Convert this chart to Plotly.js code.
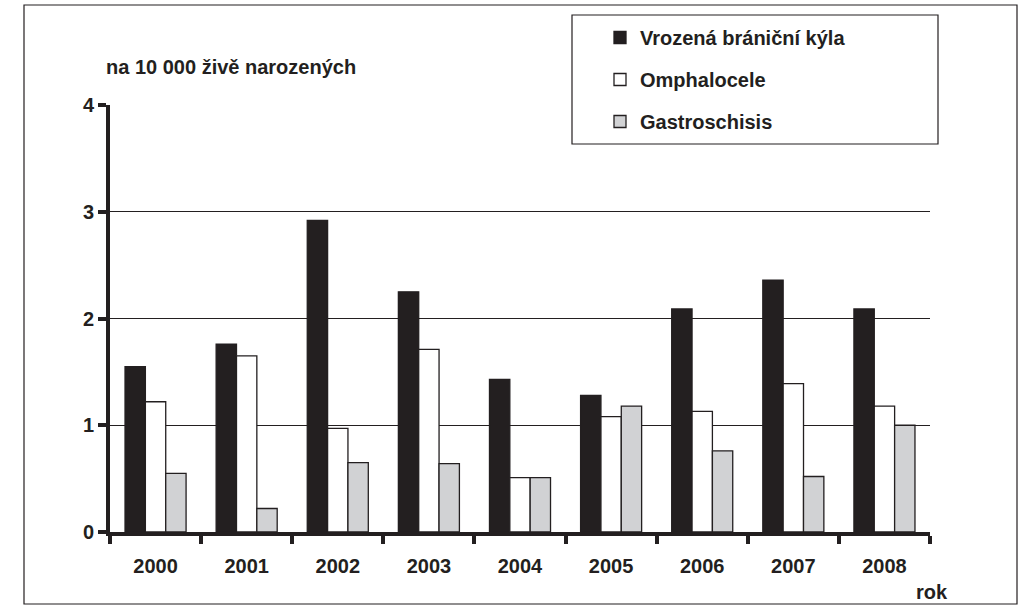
<!DOCTYPE html>
<html>
<head>
<meta charset="utf-8">
<script src="https://cdn.plot.ly/plotly-3.0.1.min.js"></script>
<style>html,body{margin:0;padding:0;background:#fff;}#chart{width:1036px;height:609px;}</style>
</head>
<body>
<div id="chart"></div>
<script>
// ---- data ----
const years = ["2000","2001","2002","2003","2004","2005","2006","2007","2008"];
const vrozenaBranicniKyla = [1.55, 1.76, 2.92, 2.25, 1.43, 1.28, 2.09, 2.36, 2.09];
const omphalocele        = [1.22, 1.65, 0.97, 1.71, 0.51, 1.08, 1.13, 1.39, 1.18];
const gastroschisis      = [0.55, 0.22, 0.65, 0.64, 0.51, 1.18, 0.76, 0.52, 1.00];
const seriesNames = ["Vrozená brániční kýla", "Omphalocele", "Gastroschisis"];
const yTicks = [0, 1, 2, 3, 4];
const yTitle = "na 10 000 živě narozených";
const xTitle = "rok";

// ---- layout helpers ----
const W = 1036, H = 609;
const M = {l: 110, r: 106, t: 105, b: 77};
const pw = W - M.l - M.r, ph = H - M.t - M.b;
const px = x => (x - M.l) / pw;
const py = y => (H - M.b - y) / ph;

const ink = "#231f20";
const font = {family: "Liberation Sans, Arial, sans-serif", size: 20, color: ink, weight: "bold"};

const fills = [ink, "#ffffff", "#d1d2d4"];
const data = [vrozenaBranicniKyla, omphalocele, gastroschisis].map((vals, i) => ({
  type: "bar",
  name: seriesNames[i],
  x: years,
  y: vals,
  legendgroup: "g" + i,
  marker: {color: fills[i], line: {color: ink, width: 1.3}},
  hoverinfo: "x+y+name"
}));

const layout = {
  width: W, height: H,
  margin: M,
  paper_bgcolor: "#ffffff",
  plot_bgcolor: "#ffffff",
  barmode: "group",
  bargap: 0.33,
  bargroupgap: 0,
  font: font,
  showlegend: true,
  legend: {
    x: px(600), y: py(18), xanchor: "left", yanchor: "top",
    bgcolor: "rgba(0,0,0,0)", borderwidth: 0,
    font: font, traceorder: "grouped", tracegroupgap: 13
  },
  xaxis: {
    type: "category",
    range: [-0.5, 8.5],
    showline: true, linecolor: ink, linewidth: 4,
    ticks: "outside", tickson: "boundaries", ticklen: 8, tickwidth: 4, tickcolor: ink,
    tickfont: font, ticklabelstandoff: 13,
    showgrid: false, zeroline: false,
    fixedrange: true
  },
  yaxis: {
    range: [0, 4],
    tickvals: yTicks,
    showline: true, linecolor: ink, linewidth: 4,
    ticks: "outside", ticklen: 8, tickwidth: 4, tickcolor: ink,
    tickfont: font,
    showgrid: true, gridcolor: ink, gridwidth: 1.2,
    zeroline: false,
    fixedrange: true
  },
  annotations: [
    {text: yTitle, xref: "paper", yref: "paper", x: px(104), y: py(67),
     xanchor: "left", yanchor: "middle", showarrow: false, font: font},
    {text: xTitle, xref: "paper", yref: "paper", x: px(932), y: py(592),
     xanchor: "center", yanchor: "middle", showarrow: false, font: font}
  ],
  shapes: [
    {type: "rect", xref: "paper", yref: "paper", x0: px(24), x1: px(1017), y0: py(604), y1: py(5),
     line: {color: ink, width: 1.2}, fillcolor: "rgba(0,0,0,0)", layer: "below"},
    {type: "rect", xref: "paper", yref: "paper", x0: px(572), x1: px(938), y0: py(144), y1: py(15),
     line: {color: ink, width: 1.2}, fillcolor: "#ffffff", layer: "above"}
  ]
};

Plotly.newPlot("chart", data, layout, {displayModeBar: false, staticPlot: true});
</script>
</body>
</html>
